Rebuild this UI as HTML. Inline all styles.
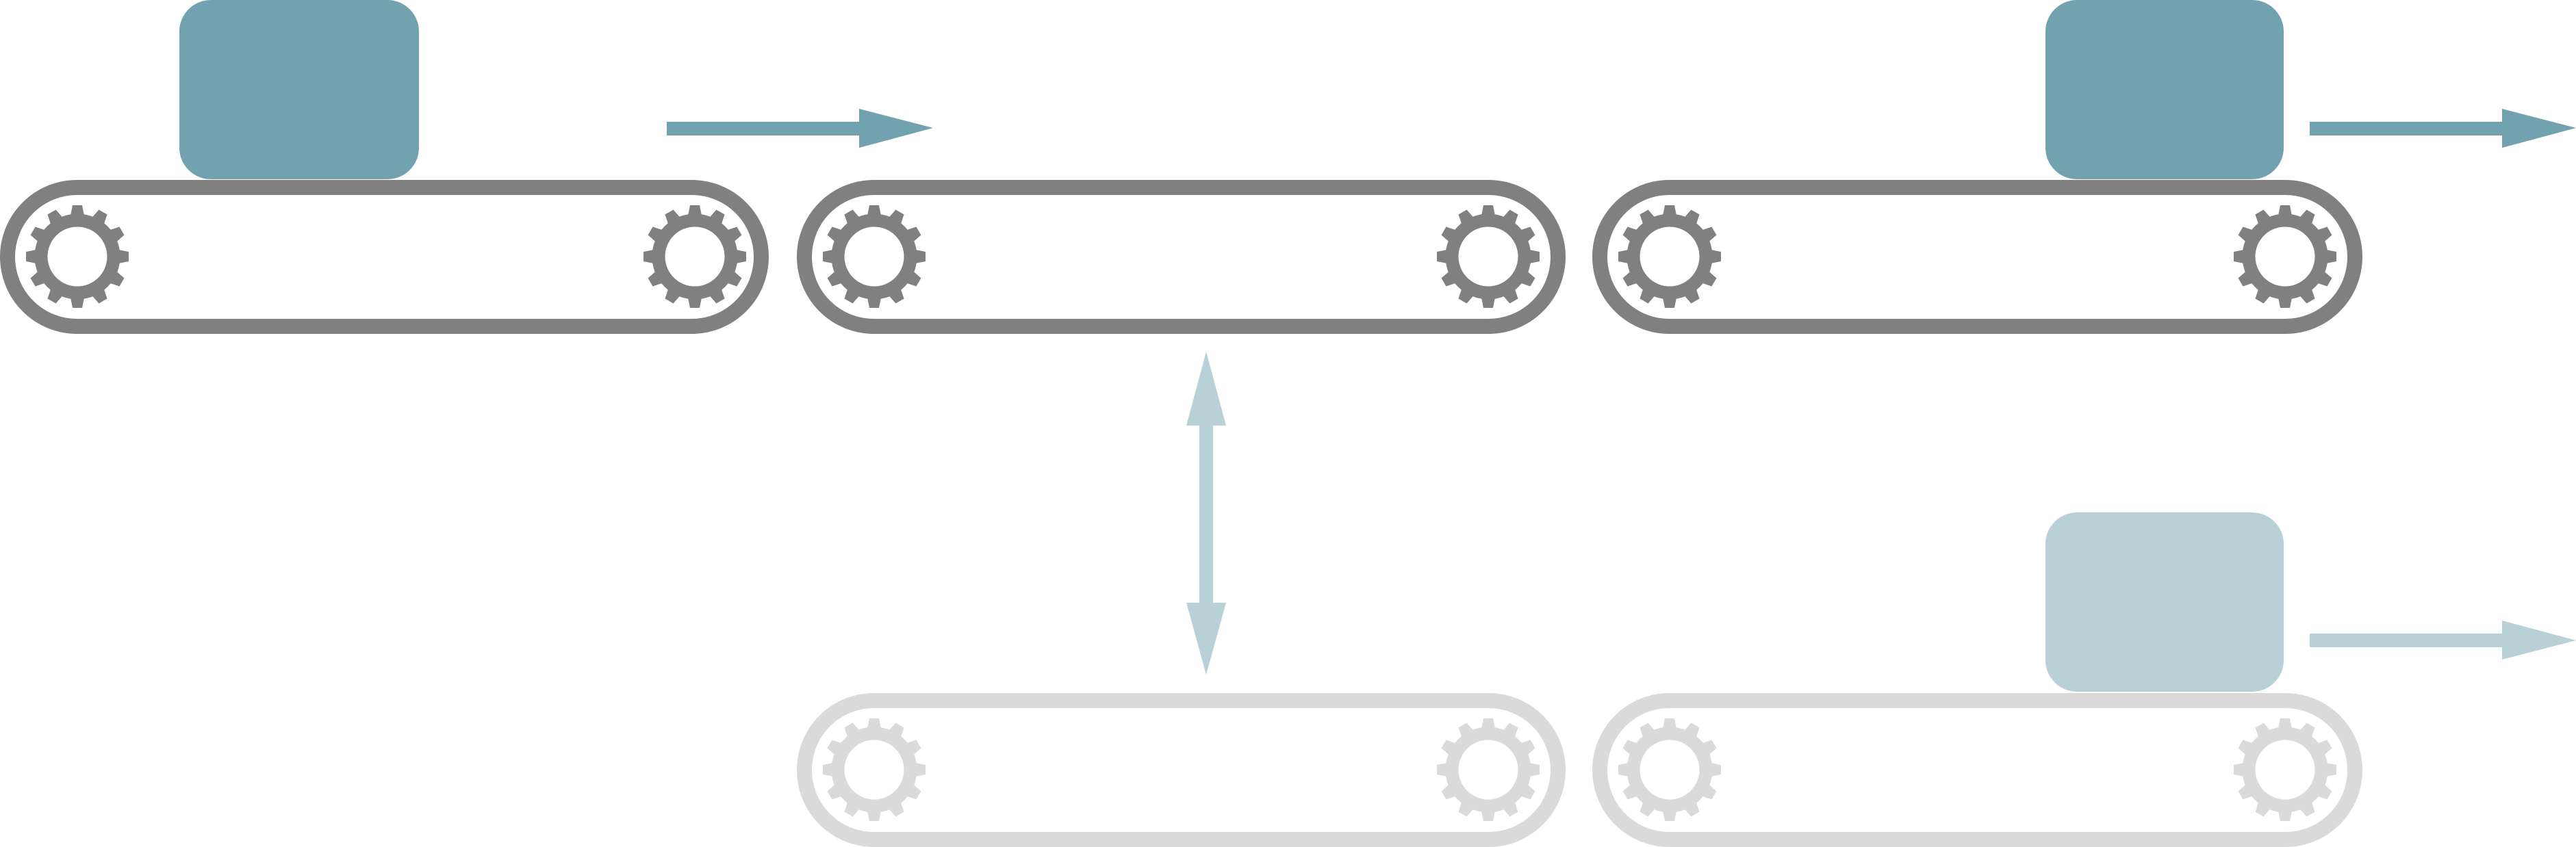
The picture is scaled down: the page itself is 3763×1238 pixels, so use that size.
<!DOCTYPE html>
<html><head><style>html,body{margin:0;padding:0;background:#fff;}svg{display:block}</style></head>
<body>
<svg width="3763" height="1238" viewBox="0 0 3763 1238" xmlns="http://www.w3.org/2000/svg">
<defs>
  <g id="gear">
    <circle r="53" fill="none" stroke="currentColor" stroke-width="19"/>
    <g fill="currentColor">
      <polygon points="-11,-55 -7,-75 7,-75 11,-55" transform="rotate(0)"/>
      <polygon points="-11,-55 -7,-75 7,-75 11,-55" transform="rotate(30)"/>
      <polygon points="-11,-55 -7,-75 7,-75 11,-55" transform="rotate(60)"/>
      <polygon points="-11,-55 -7,-75 7,-75 11,-55" transform="rotate(90)"/>
      <polygon points="-11,-55 -7,-75 7,-75 11,-55" transform="rotate(120)"/>
      <polygon points="-11,-55 -7,-75 7,-75 11,-55" transform="rotate(150)"/>
      <polygon points="-11,-55 -7,-75 7,-75 11,-55" transform="rotate(180)"/>
      <polygon points="-11,-55 -7,-75 7,-75 11,-55" transform="rotate(210)"/>
      <polygon points="-11,-55 -7,-75 7,-75 11,-55" transform="rotate(240)"/>
      <polygon points="-11,-55 -7,-75 7,-75 11,-55" transform="rotate(270)"/>
      <polygon points="-11,-55 -7,-75 7,-75 11,-55" transform="rotate(300)"/>
      <polygon points="-11,-55 -7,-75 7,-75 11,-55" transform="rotate(330)"/>
    </g>
  </g>
</defs>

<rect x="262" y="0" width="350" height="262" rx="46" fill="#72a2b0"/>
<rect x="2988" y="0" width="348" height="262" rx="46" fill="#72a2b0"/>
<rect x="2988" y="749" width="348" height="262" rx="46" fill="#b7d1d6"/>

<g fill="none" stroke="#808080" stroke-width="22">
  <rect x="11" y="274" width="1101" height="203" rx="101.5"/>
  <rect x="1175" y="274" width="1101" height="203" rx="101.5"/>
  <rect x="2337" y="274" width="1103" height="203" rx="101.5"/>
</g>
<g color="#808080">
  <use href="#gear" x="113" y="375"/>
  <use href="#gear" x="1015" y="375"/>
  <use href="#gear" x="1277" y="375"/>
  <use href="#gear" x="2174" y="375"/>
  <use href="#gear" x="2439" y="375"/>
  <use href="#gear" x="3338" y="375"/>
</g>

<g fill="none" stroke="#dadada" stroke-width="22">
  <rect x="1175" y="1024" width="1101" height="203" rx="101.5"/>
  <rect x="2337" y="1024" width="1103" height="203" rx="101.5"/>
</g>
<g color="#dadada">
  <use href="#gear" x="1277" y="1125"/>
  <use href="#gear" x="2174" y="1125"/>
  <use href="#gear" x="2439" y="1125"/>
  <use href="#gear" x="3338" y="1125"/>
</g>

<g fill="#72a2b0">
  <rect x="974" y="178" width="284" height="20"/>
  <polygon points="1255,159 1363,187 1255,216"/>
  <rect x="3374" y="178" width="284" height="20"/>
  <polygon points="3655,159 3763,187 3655,216"/>
</g>
<g fill="#b7d1d6">
  <rect x="3374" y="926" width="284" height="20"/>
  <polygon points="3655,907 3763,936 3655,964"/>
  <rect x="1752" y="618" width="20" height="268"/>
  <polygon points="1762,514 1791,622 1733,622"/>
  <polygon points="1762,986 1791,881 1733,881"/>
</g>
</svg>
</body></html>
